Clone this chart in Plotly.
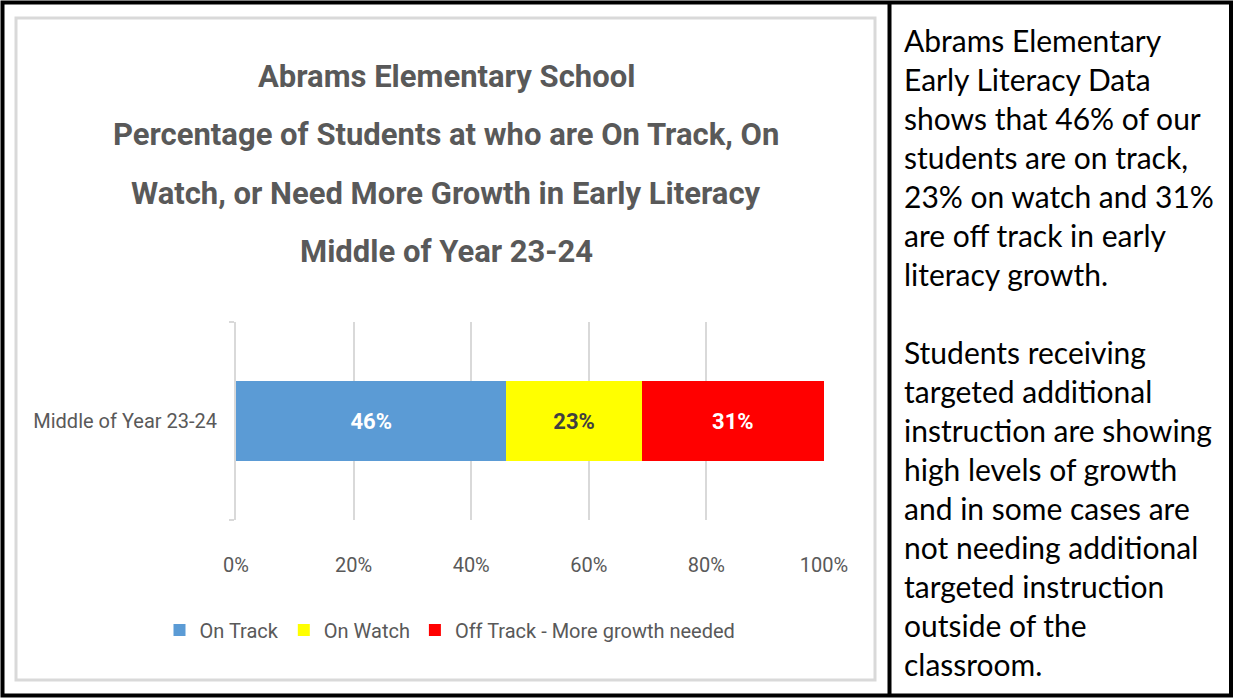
import plotly.graph_objects as go

W, H = 1233, 698

categories = ["Middle of Year 23-24"]
series_names = ["On Track", "On Watch", "Off Track - More growth needed"]
series_values = [[0.46], [0.23], [0.31]]
series_colors = ["#5B9BD5", "#FFFF00", "#FF0000"]
label_colors = ["#FFFFFF", "#404040", "#FFFFFF"]
tick_vals = [0, 0.2, 0.4, 0.6, 0.8, 1.0]
tick_text = ["0%", "20%", "40%", "60%", "80%", "100%"]

title_lines = [
    "Abrams Elementary School",
    "Percentage of Students at who are On Track, On",
    "Watch, or Need More Growth in Early Literacy",
    "Middle of Year 23-24",
]
side_lines = [
    "Abrams Elementary",
    "Early Literacy Data",
    "shows that 46% of our",
    "students are on track,",
    "23% on watch and 31%",
    "are off track in early",
    "literacy growth.",
    "",
    "Students receiving",
    "targeted additional",
    "instruction are showing",
    "high levels of growth",
    "and in some cases are",
    "not needing additional",
    "targeted instruction",
    "outside of the",
    "classroom.",
]

CHART_FONT = "Roboto, sans-serif"
SIDE_FONT = "Lato, sans-serif"
GRAY = "#595959"
GRID = "#D9D9D9"

def px(x):
    return x / W

def py(y):
    return 1 - y / H

fig = go.Figure()
for name, vals, col, lcol in zip(series_names, series_values, series_colors, label_colors):
    fig.add_trace(go.Bar(
        y=categories, x=vals, name=name, orientation="h",
        marker=dict(color=col, line=dict(width=0)),
        texttemplate="%{x:.0%}", textposition="inside",
        insidetextanchor="middle",
        textfont=dict(family=CHART_FONT, size=22, color=lcol, weight="bold"),
        hoverinfo="skip",
    ))

fig.update_layout(
    template="none",
    width=W, height=H, autosize=False,
    margin=dict(l=0, r=0, t=0, b=0, pad=0, autoexpand=False),
    paper_bgcolor="white", plot_bgcolor="white",
    barmode="stack", bargap=0.6,
    showlegend=True,
    legend=dict(orientation="h", x=px(450), y=py(630), xanchor="center", yanchor="middle",
                font=dict(family=CHART_FONT, size=20, color=GRAY),
                itemwidth=30, tracegroupgap=0, traceorder="normal",
                bgcolor="rgba(0,0,0,0)"),
    xaxis=dict(domain=[px(236), px(824)], range=[0, 1], tickvals=tick_vals, ticktext=tick_text,
               showgrid=True, gridcolor=GRID, gridwidth=2, zeroline=False, showline=False,
               ticks="", ticklabelstandoff=31, automargin=False,
               tickfont=dict(family=CHART_FONT, size=20, color=GRAY), fixedrange=True),
    yaxis=dict(domain=[py(520), py(322)], range=[-0.5, 0.5], type="category",
               showline=True, linecolor=GRID, linewidth=2, ticks="outside", tickson="boundaries",
               ticklen=5, tickcolor=GRID, tickwidth=2, showgrid=False, ticklabelstandoff=13,
               automargin=False,
               tickfont=dict(family=CHART_FONT, size=20, color=GRAY), fixedrange=True),
)

# Title lines
for i, line in enumerate(title_lines):
    fig.add_annotation(text=line, x=px(446), y=py(76 + i * 58.5), xref="paper", yref="paper",
                       xanchor="center", yanchor="middle", showarrow=False,
                       font=dict(family=CHART_FONT, size=31, color=GRAY, weight="bold"))

# Side text lines
for i, line in enumerate(side_lines):
    if not line:
        continue
    fig.add_annotation(text=line, x=px(902), y=py(40 + i * 39), xref="paper", yref="paper",
                       xanchor="left", yanchor="middle", showarrow=False,
                       font=dict(family=SIDE_FONT, size=30, color="#000000"))

# Borders
shapes = [
    dict(type="rect", x0=px(16), x1=px(875), y0=py(680), y1=py(18), xref="paper", yref="paper",
         line=dict(color="#D9D9D9", width=3), fillcolor="rgba(0,0,0,0)", layer="below"),
    dict(type="rect", x0=px(2.5), x1=px(1231), y0=py(695.5), y1=py(2.5), xref="paper", yref="paper",
         line=dict(color="#000000", width=4), fillcolor="rgba(0,0,0,0)"),
    dict(type="line", x0=px(889.5), x1=px(889.5), y0=py(695.5), y1=py(2.5), xref="paper", yref="paper",
         line=dict(color="#000000", width=4)),
]
fig.update_layout(shapes=shapes)

fig.write_html(
    "out.html",
    config={"displayModeBar": False},
    post_script="document.body.style.margin='0';document.body.style.overflow='hidden';",
)
